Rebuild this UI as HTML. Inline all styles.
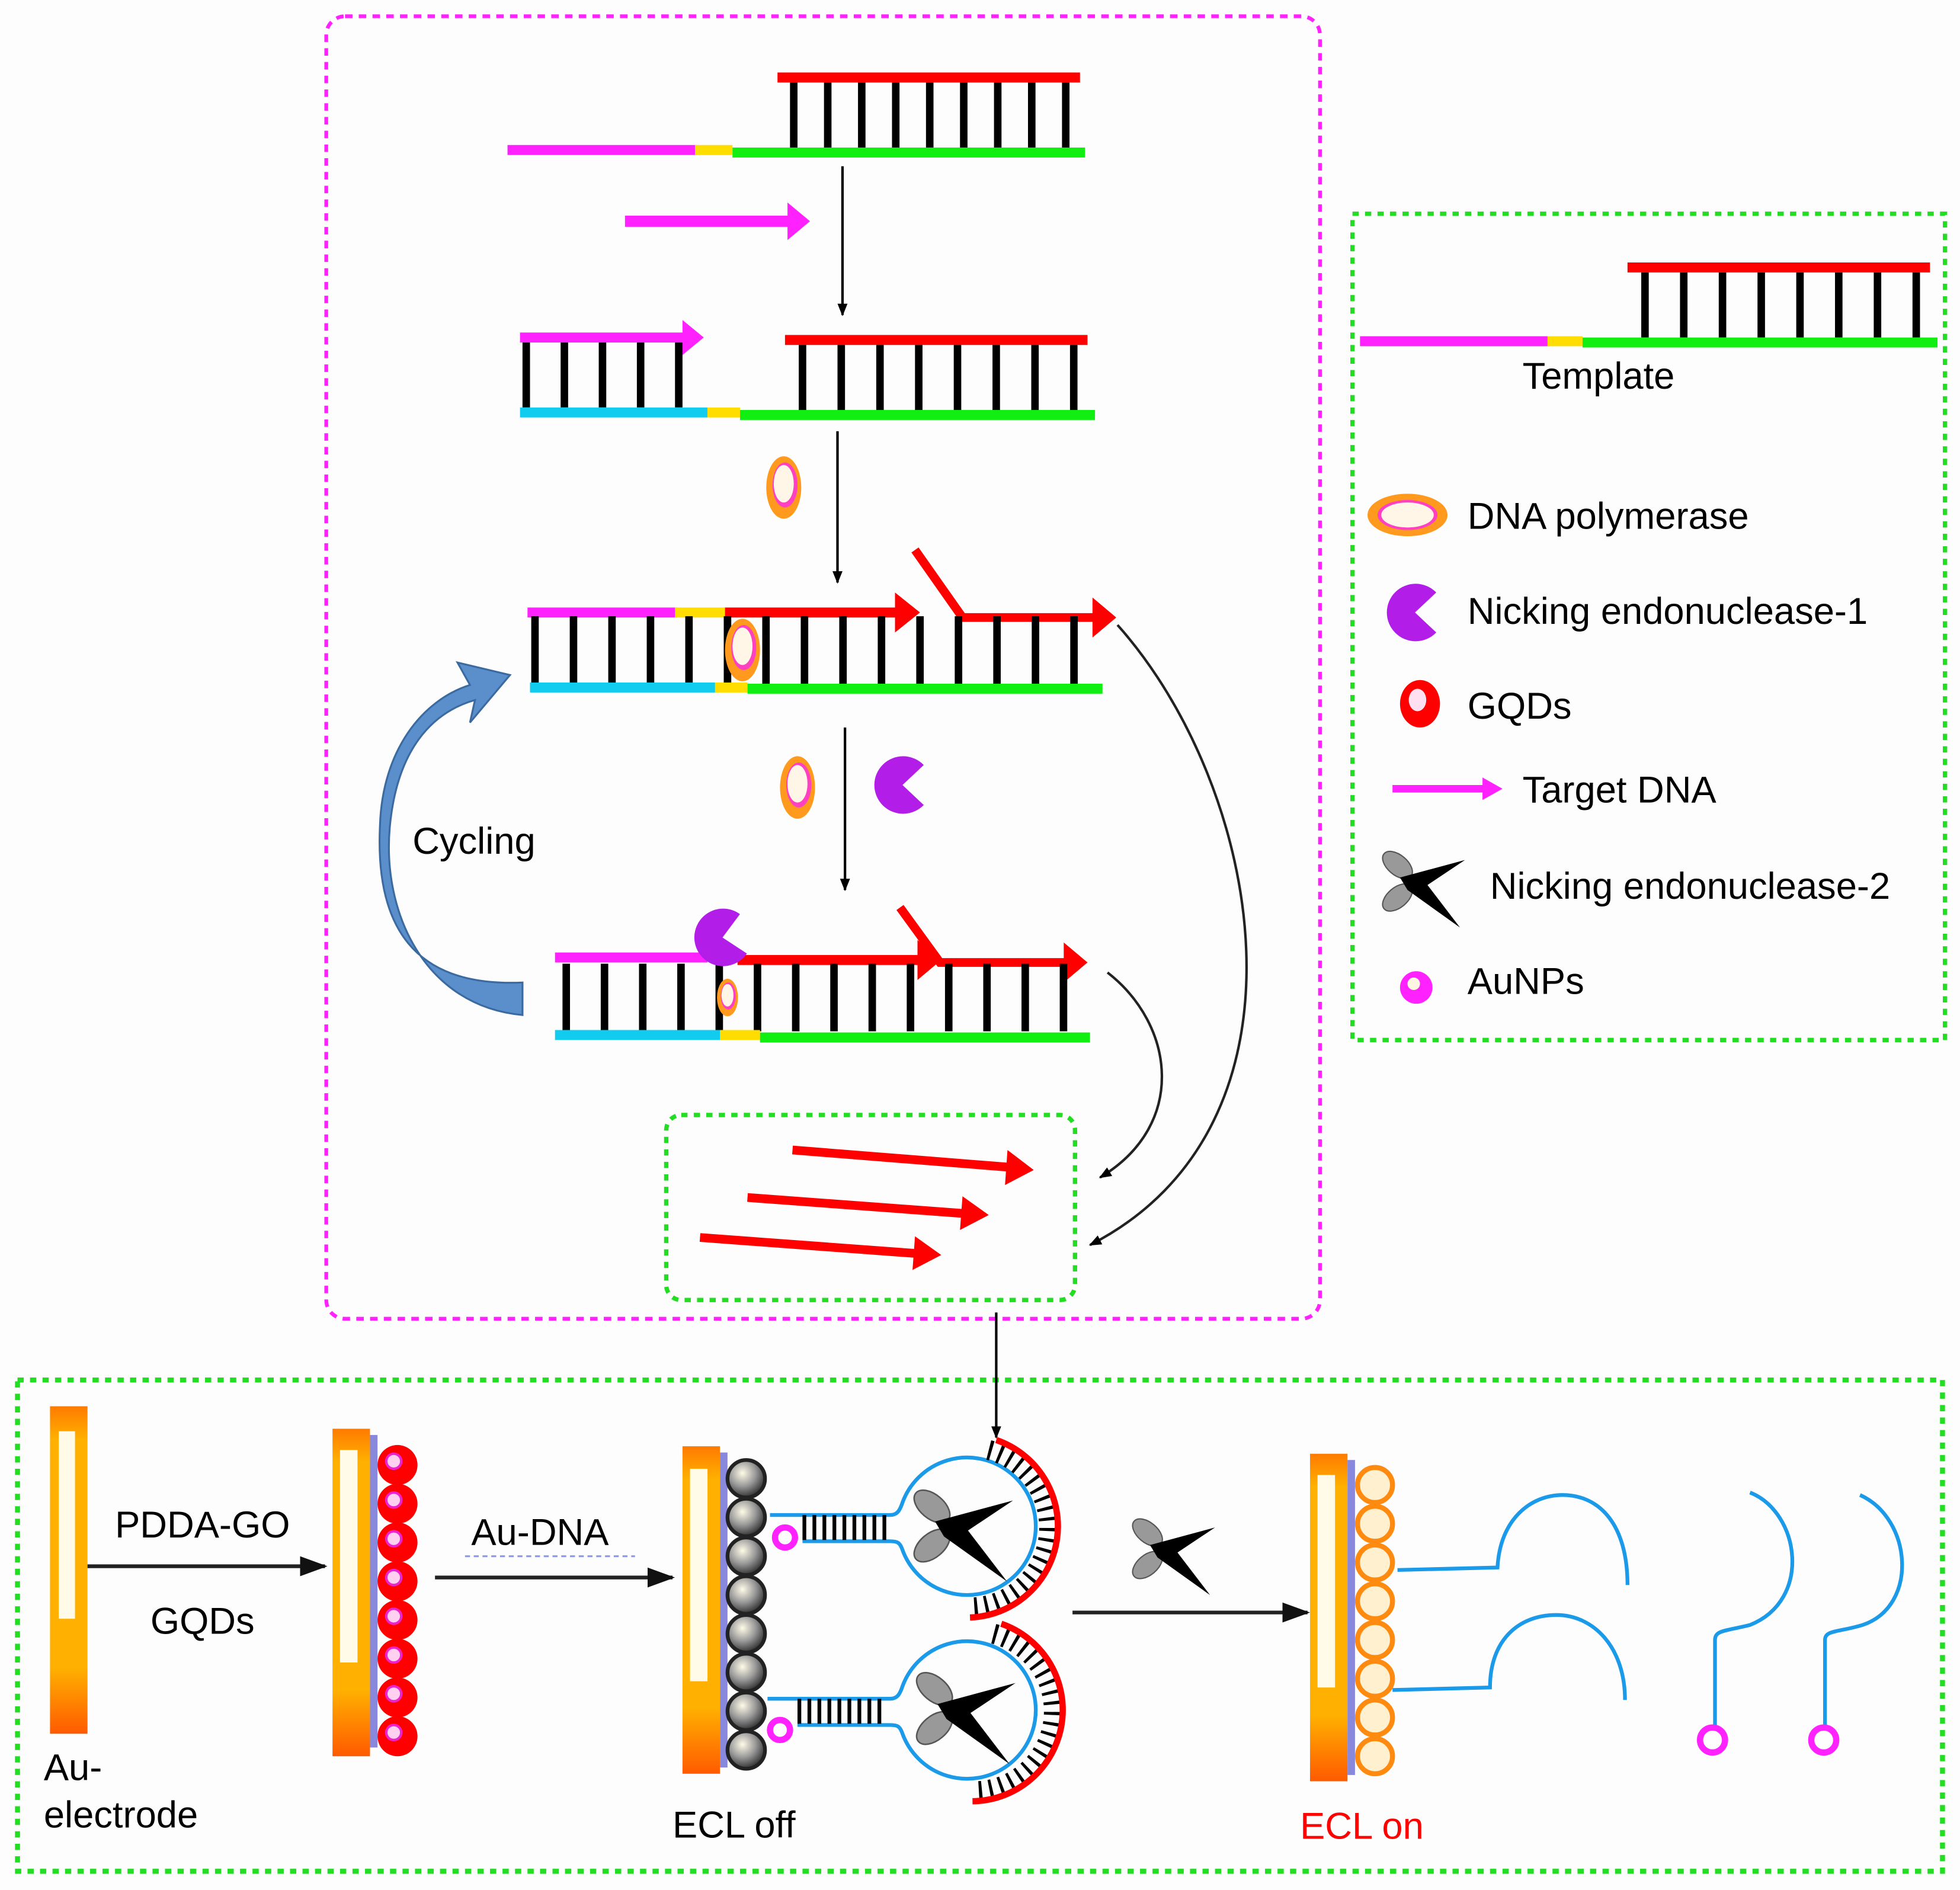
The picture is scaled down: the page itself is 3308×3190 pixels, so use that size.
<!DOCTYPE html>
<html><head><meta charset="utf-8"><style>
html,body{margin:0;padding:0;background:#fdfdfd;}
svg{display:block;}
text{font-family:"Liberation Sans",sans-serif;fill:#000;}
</style></head><body>
<svg width="3308" height="3190" viewBox="0 0 1568 1512" preserveAspectRatio="none" xmlns="http://www.w3.org/2000/svg">
<defs>
<marker id="ah" markerWidth="10" markerHeight="10" refX="9" refY="5" orient="auto" markerUnits="userSpaceOnUse"><path d="M0,1 L10,5 L0,9 Z" fill="#000"/></marker>
<marker id="ahb" markerWidth="22" markerHeight="16" refX="20" refY="8" orient="auto" markerUnits="userSpaceOnUse"><path d="M0,0 L22,8 L0,16 Z" fill="#111"/></marker>
<radialGradient id="grey" cx="0.4" cy="0.35" r="0.7"><stop offset="0" stop-color="#fffbe8"/><stop offset="0.5" stop-color="#999"/><stop offset="1" stop-color="#222"/></radialGradient>
<linearGradient id="elec" x1="0" y1="0" x2="0" y2="1"><stop offset="0" stop-color="#ff7a00"/><stop offset="0.1" stop-color="#ffb000"/><stop offset="0.8" stop-color="#ffb000"/><stop offset="1" stop-color="#ff5a00"/></linearGradient>
<g id="poly"><ellipse cx="0" cy="0" rx="14" ry="25" fill="#ff9a1e"/><ellipse cx="1" cy="-2" rx="10" ry="18" fill="#ff40c0"/><ellipse cx="0" cy="-3" rx="8" ry="15" fill="#fff6e8"/></g>
<g id="pac"><path d="M0,0 L17,-16 A23,23 0 1 0 17,16 Z" fill="#b21ee8"/></g>
<g id="sc"><ellipse cx="-22" cy="-14" rx="14" ry="8" transform="rotate(40 -22 -14)" fill="#999" stroke="#555"/><ellipse cx="-22" cy="12" rx="14" ry="8" transform="rotate(-40 -22 12)" fill="#999" stroke="#555"/><path d="M-20,-4 L32,-18 L2,2 L28,36 L-14,6 Z" fill="#000"/></g>
</defs>
<rect width="1568" height="1512" fill="#fdfdfd"/>
<rect x="261" y="13" width="795" height="1042" rx="15" fill="none" stroke="#ff22ff" stroke-width="3" stroke-dasharray="6,5"/>
<rect x="1082" y="171" width="474" height="661" fill="none" stroke="#22dd22" stroke-width="3.5" stroke-dasharray="5,5"/>
<rect x="14" y="1104" width="1540" height="393" fill="none" stroke="#22dd22" stroke-width="4" stroke-dasharray="5,5"/>
<rect x="533" y="892" width="327" height="148" rx="12" fill="none" stroke="#22dd22" stroke-width="3.5" stroke-dasharray="5,5"/>

<!-- DNA 1 -->
<line x1="622" y1="62" x2="864" y2="62" stroke="#f00" stroke-width="8"/>
<line x1="632" y1="92" x2="862" y2="92" stroke="#000" stroke-width="52" stroke-dasharray="6,21.2"/>
<line x1="406" y1="120" x2="558" y2="120" stroke="#ff22ff" stroke-width="8"/>
<line x1="556" y1="120" x2="586" y2="120" stroke="#ffdd00" stroke-width="8"/>
<line x1="586" y1="122" x2="868" y2="122" stroke="#11ee11" stroke-width="8"/>
<line x1="500" y1="177" x2="632" y2="177" stroke="#ff22ff" stroke-width="9"/>
<path d="M630,162 L648,177 L630,192 Z" fill="#ff22ff"/>
<line x1="674" y1="133" x2="674" y2="252" stroke="#000" stroke-width="2" marker-end="url(#ah)"/>

<!-- DNA 2 -->
<line x1="416" y1="270" x2="548" y2="270" stroke="#ff22ff" stroke-width="8"/>
<path d="M546,256 L563,270 L546,284 Z" fill="#ff22ff"/>
<line x1="418" y1="300" x2="550" y2="300" stroke="#000" stroke-width="52" stroke-dasharray="6,24.5"/>
<line x1="628" y1="272" x2="870" y2="272" stroke="#f00" stroke-width="8"/>
<line x1="639" y1="302" x2="866" y2="302" stroke="#000" stroke-width="52" stroke-dasharray="6,25"/>
<line x1="416" y1="330" x2="566" y2="330" stroke="#11ccee" stroke-width="8"/>
<line x1="566" y1="330" x2="592" y2="330" stroke="#ffdd00" stroke-width="8"/>
<line x1="592" y1="332" x2="876" y2="332" stroke="#11ee11" stroke-width="8"/>
<line x1="670" y1="345" x2="670" y2="466" stroke="#000" stroke-width="2" marker-end="url(#ah)"/>
<use href="#poly" x="627" y="390"/>

<!-- DNA 3 -->
<line x1="422" y1="490" x2="542" y2="490" stroke="#ff22ff" stroke-width="8"/>
<line x1="540" y1="490" x2="580" y2="490" stroke="#ffdd00" stroke-width="8"/>
<line x1="580" y1="490" x2="720" y2="490" stroke="#f00" stroke-width="8"/>
<path d="M716,474 L736,490 L716,506 Z" fill="#f00"/>
<path d="M732,440 L770,494 L878,494" fill="none" stroke="#f00" stroke-width="7"/>
<path d="M874,478 L893,494 L874,510 Z" fill="#f00"/>
<line x1="425" y1="520" x2="870" y2="520" stroke="#000" stroke-width="54" stroke-dasharray="6,24.8"/>
<line x1="424" y1="550" x2="574" y2="550" stroke="#11ccee" stroke-width="8"/>
<line x1="572" y1="550" x2="598" y2="550" stroke="#ffdd00" stroke-width="8"/>
<line x1="598" y1="551" x2="882" y2="551" stroke="#11ee11" stroke-width="8"/>
<use href="#poly" x="594" y="520"/>
<line x1="676" y1="582" x2="676" y2="712" stroke="#000" stroke-width="2" marker-end="url(#ah)"/>
<use href="#poly" x="638" y="630"/>
<use href="#pac" x="722" y="628"/>
<path d="M894,500 C1010,630 1060,900 872,996" fill="none" stroke="#222" stroke-width="2" marker-end="url(#ah)"/>

<!-- DNA 4 -->
<line x1="444" y1="766" x2="566" y2="766" stroke="#ff22ff" stroke-width="8"/>
<line x1="590" y1="768" x2="738" y2="768" stroke="#f00" stroke-width="8"/>
<path d="M734,752 L753,768 L734,784 Z" fill="#f00"/>
<path d="M720,726 L752,770 L854,770" fill="none" stroke="#f00" stroke-width="7"/>
<path d="M851,754 L870,770 L851,786 Z" fill="#f00"/>
<line x1="450" y1="798" x2="858" y2="798" stroke="#000" stroke-width="54" stroke-dasharray="6,24.6"/>
<line x1="444" y1="828" x2="578" y2="828" stroke="#11ccee" stroke-width="8"/>
<line x1="576" y1="828" x2="608" y2="828" stroke="#ffdd00" stroke-width="8"/>
<line x1="608" y1="830" x2="872" y2="830" stroke="#11ee11" stroke-width="8"/>
<use href="#pac" x="578" y="750" transform="rotate(-10 578 750)"/>
<g transform="translate(582,798) scale(0.6)"><use href="#poly"/></g>
<path d="M886,778 C940,820 950,900 880,942" fill="none" stroke="#222" stroke-width="2" marker-end="url(#ah)"/>

<!-- cycling arrow -->
<path d="M418,812 C340,805 305,730 312,660 C318,600 345,570 380,560 L376,578 L408,540 L366,530 L376,548 C338,560 306,600 304,660 C300,740 330,790 418,786 Z" fill="#5b8fcc" stroke="#3a6aa0" stroke-width="1.5"/>
<text x="330" y="683" font-size="30">Cycling</text>

<!-- red products -->
<g stroke="#f00" stroke-width="7">
<line x1="634" y1="920" x2="810" y2="934"/>
<line x1="598" y1="958" x2="774" y2="971"/>
<line x1="560" y1="990" x2="736" y2="1003"/>
</g>
<g fill="#f00">
<path d="M806,920 L827,936 L804,948 Z"/>
<path d="M770,957 L791,972 L768,984 Z"/>
<path d="M732,989 L753,1004 L730,1016 Z"/>
</g>
<line x1="797" y1="1050" x2="797" y2="1150" stroke="#000" stroke-width="2" marker-end="url(#ah)"/>

<!-- legend -->
<line x1="1302" y1="214" x2="1544" y2="214" stroke="#f00" stroke-width="8"/>
<line x1="1313" y1="244" x2="1540" y2="244" stroke="#000" stroke-width="52" stroke-dasharray="6,25"/>
<line x1="1088" y1="273" x2="1240" y2="273" stroke="#ff22ff" stroke-width="8"/>
<line x1="1238" y1="273" x2="1266" y2="273" stroke="#ffdd00" stroke-width="8"/>
<line x1="1266" y1="274" x2="1550" y2="274" stroke="#11ee11" stroke-width="8"/>
<text x="1218" y="311" font-size="30">Template</text>
<g transform="translate(1126,412) rotate(90)"><ellipse rx="17" ry="32" fill="#ff9a1e"/><ellipse rx="12" ry="24" fill="#ff40c0"/><ellipse rx="10" ry="21" fill="#fff6e8"/></g>
<text x="1174" y="423" font-size="30">DNA polymerase</text>
<use href="#pac" x="1132" y="490"/>
<text x="1174" y="499" font-size="30">Nicking endonuclease-1</text>
<ellipse cx="1136" cy="563" rx="16" ry="19" fill="#f00"/><ellipse cx="1134" cy="560" rx="7" ry="9" fill="#ffe0f0"/>
<text x="1174" y="575" font-size="30">GQDs</text>
<line x1="1114" y1="631" x2="1188" y2="631" stroke="#ff22ff" stroke-width="6"/>
<path d="M1186,622 L1202,631 L1186,640 Z" fill="#ff22ff"/>
<text x="1218" y="642" font-size="30">Target DNA</text>
<use href="#sc" x="1140" y="706"/>
<text x="1192" y="719" font-size="30">Nicking endonuclease-2</text>
<circle cx="1133" cy="790" r="13" fill="#ff22ff"/><circle cx="1131" cy="787" r="5" fill="#fff5e0"/>
<text x="1174" y="795" font-size="30">AuNPs</text>

<!-- electrode 1 -->
<rect x="40" y="1125" width="30" height="262" fill="url(#elec)"/>
<rect x="47" y="1145" width="13" height="150" fill="#fffbe8"/>
<text x="35" y="1424" font-size="30">Au-</text>
<text x="35" y="1462" font-size="30">electrode</text>
<line x1="70" y1="1253" x2="260" y2="1253" stroke="#222" stroke-width="3" marker-end="url(#ahb)"/>
<text x="162" y="1230" font-size="30" text-anchor="middle">PDDA-GO</text>
<text x="162" y="1307" font-size="30" text-anchor="middle">GQDs</text>
<!-- electrode 2 -->
<rect x="266" y="1143" width="30" height="262" fill="url(#elec)"/>
<rect x="272" y="1160" width="14" height="170" fill="#fffbe8"/>
<rect x="296" y="1148" width="6" height="250" fill="#8888dd"/>
<g fill="#f00">
<circle cx="318" cy="1172" r="16"/><circle cx="318" cy="1203" r="16"/><circle cx="318" cy="1234" r="16"/><circle cx="318" cy="1265" r="16"/><circle cx="318" cy="1296" r="16"/><circle cx="318" cy="1327" r="16"/><circle cx="318" cy="1358" r="16"/><circle cx="318" cy="1389" r="16"/>
</g>
<g fill="#ffd0f0" stroke="#ee22cc" stroke-width="2">
<circle cx="315" cy="1169" r="6"/><circle cx="315" cy="1200" r="6"/><circle cx="315" cy="1231" r="6"/><circle cx="315" cy="1262" r="6"/><circle cx="315" cy="1293" r="6"/><circle cx="315" cy="1324" r="6"/><circle cx="315" cy="1355" r="6"/><circle cx="315" cy="1386" r="6"/>
</g>
<line x1="348" y1="1262" x2="538" y2="1262" stroke="#222" stroke-width="3" marker-end="url(#ahb)"/>
<text x="432" y="1236" font-size="30" text-anchor="middle">Au-DNA</text>
<line x1="372" y1="1245" x2="508" y2="1245" stroke="#8899ee" stroke-width="1.5" stroke-dasharray="4,3"/>
<!-- electrode 3 -->
<rect x="546" y="1157" width="30" height="262" fill="url(#elec)"/>
<rect x="552" y="1175" width="14" height="170" fill="#fffbe8"/>
<rect x="576" y="1162" width="6" height="252" fill="#8888dd"/>
<g fill="url(#grey)" stroke="#222" stroke-width="3">
<circle cx="597" cy="1183" r="15"/><circle cx="597" cy="1214" r="15"/><circle cx="597" cy="1245" r="15"/><circle cx="597" cy="1276" r="15"/><circle cx="597" cy="1307" r="15"/><circle cx="597" cy="1338" r="15"/><circle cx="597" cy="1369" r="15"/><circle cx="597" cy="1400" r="15"/>
</g>
<!-- probe 1: circle center (774,1221) r55 -->
<path d="M616,1212 L712,1212 C718,1212 720,1208 722,1202 A55,55 0 1 1 722,1240 C720,1234 718,1233 712,1233 L642,1233" fill="none" stroke="#1a9ae8" stroke-width="3"/>
<line x1="642" y1="1222" x2="712" y2="1222" stroke="#000" stroke-width="20" stroke-dasharray="3,5"/>
<circle cx="628" cy="1230" r="8" fill="none" stroke="#ff22ff" stroke-width="5"/>
<path d="M791,1160 A64,64 0 0 1 778,1286" fill="none" stroke="#000" stroke-width="16" stroke-dasharray="2.5,6"/>
<path d="M797,1152 A73,73 0 0 1 776,1294" fill="none" stroke="#f00" stroke-width="5"/>
<use href="#sc" x="772" y="1222" transform="translate(772 1222) scale(1.2) translate(-772 -1222)"/>
<!-- probe 2: center (774,1368) -->
<path d="M614,1359 L712,1359 C718,1359 720,1355 722,1349 A55,55 0 1 1 722,1387 C720,1381 718,1380 712,1380 L638,1380" fill="none" stroke="#1a9ae8" stroke-width="3"/>
<line x1="638" y1="1369" x2="710" y2="1369" stroke="#000" stroke-width="20" stroke-dasharray="3,5"/>
<circle cx="624" cy="1384" r="8" fill="none" stroke="#ff22ff" stroke-width="5"/>
<path d="M795,1307 A64,64 0 0 1 780,1433" fill="none" stroke="#000" stroke-width="16" stroke-dasharray="2.5,6"/>
<path d="M801,1299 A73,73 0 0 1 778,1441" fill="none" stroke="#f00" stroke-width="5"/>
<use href="#sc" x="774" y="1368" transform="translate(774 1368) scale(1.2) translate(-774 -1368)"/>
<text x="538" y="1470" font-size="30">ECL off</text>
<use href="#sc" x="940" y="1240"/>
<line x1="858" y1="1290" x2="1046" y2="1290" stroke="#222" stroke-width="3" marker-end="url(#ahb)"/>
<!-- electrode 4 -->
<rect x="1048" y="1163" width="30" height="262" fill="url(#elec)"/>
<rect x="1054" y="1180" width="14" height="170" fill="#fffbe8"/>
<rect x="1078" y="1168" width="6" height="252" fill="#8888dd"/>
<g fill="#fff0d0" stroke="#ff8a10" stroke-width="4">
<circle cx="1100" cy="1188" r="14"/><circle cx="1100" cy="1219" r="14"/><circle cx="1100" cy="1250" r="14"/><circle cx="1100" cy="1281" r="14"/><circle cx="1100" cy="1312" r="14"/><circle cx="1100" cy="1343" r="14"/><circle cx="1100" cy="1374" r="14"/><circle cx="1100" cy="1405" r="14"/>
</g>
<g fill="none" stroke="#1a9ae8" stroke-width="3">
<path d="M1118,1256 L1198,1254 C1200,1215 1225,1196 1250,1196 C1280,1196 1302,1220 1302,1268"/>
<path d="M1114,1352 L1192,1350 C1192,1312 1215,1292 1245,1292 C1275,1292 1300,1318 1300,1360"/>
<path d="M1400,1194 C1440,1210 1450,1280 1400,1300 C1380,1305 1372,1304 1372,1312 L1372,1384"/>
<path d="M1488,1196 C1530,1215 1535,1285 1490,1300 C1470,1306 1460,1304 1460,1312 L1460,1384"/>
</g>
<circle cx="1370" cy="1392" r="10" fill="none" stroke="#ff22ff" stroke-width="5"/>
<circle cx="1459" cy="1392" r="10" fill="none" stroke="#ff22ff" stroke-width="5"/>
<text x="1040" y="1471" font-size="30" style="fill:#f00">ECL on</text>
</svg>
</body></html>
